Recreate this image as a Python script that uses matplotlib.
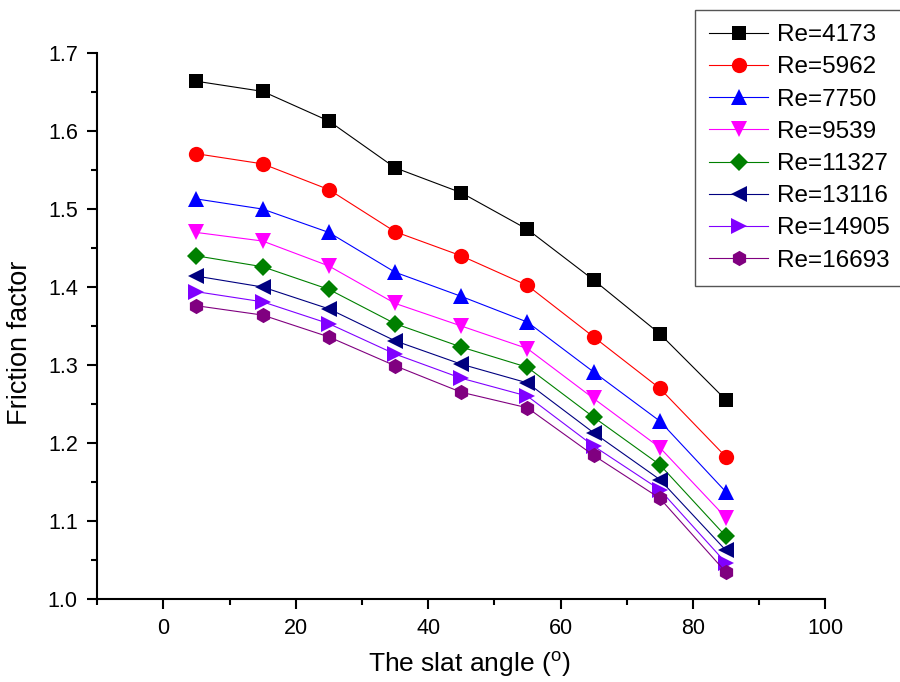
import matplotlib
matplotlib.use("Agg")
import matplotlib.pyplot as plt
from matplotlib.ticker import MultipleLocator

plt.rcParams['font.family'] = ['Liberation Sans', 'DejaVu Sans']
plt.rcParams['mathtext.fontset'] = 'custom'
plt.rcParams['mathtext.rm'] = 'Liberation Sans'

# slat angle (deg)
angle = [5, 15, 25, 35, 45, 55, 65, 75, 85]

re_labels = ['Re=4173', 'Re=5962', 'Re=7750', 'Re=9539',
             'Re=11327', 'Re=13116', 'Re=14905', 'Re=16693']

f_4173 = [1.664, 1.651, 1.613, 1.553, 1.521, 1.474, 1.409, 1.340, 1.255]
f_5962 = [1.571, 1.558, 1.525, 1.471, 1.440, 1.402, 1.336, 1.270, 1.182]
f_7750 = [1.513, 1.500, 1.470, 1.419, 1.388, 1.355, 1.291, 1.228, 1.137]
f_9539 = [1.470, 1.459, 1.427, 1.379, 1.350, 1.321, 1.257, 1.194, 1.104]
f_11327 = [1.440, 1.426, 1.397, 1.353, 1.323, 1.297, 1.233, 1.172, 1.080]
f_13116 = [1.414, 1.400, 1.372, 1.331, 1.301, 1.277, 1.213, 1.153, 1.062]
f_14905 = [1.394, 1.381, 1.353, 1.314, 1.283, 1.260, 1.196, 1.140, 1.046]
f_16693 = [1.376, 1.364, 1.336, 1.299, 1.265, 1.245, 1.184, 1.129, 1.034]

series = [f_4173, f_5962, f_7750, f_9539, f_11327, f_13116, f_14905, f_16693]
colors = ['#000000', '#ff0000', '#0000ff', '#ff00ff',
          '#008000', '#000080', '#8000ff', '#800080']
markers = ['s', 'o', '^', 'v', 'D', '<', '>', 'h']
msizes = [10, 11, 11, 11, 9.5, 11, 11, 11]

fig = plt.figure(figsize=(9, 6.82), dpi=100)
ax = fig.add_axes([0.108, 0.122, 0.809, 0.800])

for ys, c, m, ms, lab in zip(series, colors, markers, msizes, re_labels):
    ax.plot(angle, ys, color=c, marker=m, markersize=ms, linewidth=0.8,
            markeredgewidth=0, label=lab)

ax.set_xlim(-10, 100)
ax.set_ylim(1.0, 1.7)
ax.xaxis.set_major_locator(MultipleLocator(20))
ax.xaxis.set_minor_locator(MultipleLocator(10))
ax.yaxis.set_major_locator(MultipleLocator(0.1))
ax.yaxis.set_minor_locator(MultipleLocator(0.05))
ax.set_yticks([1.0, 1.1, 1.2, 1.3, 1.4, 1.5, 1.6, 1.7])
ax.set_xticks([0, 20, 40, 60, 80, 100])

for s in ['top', 'right']:
    ax.spines[s].set_visible(False)
for s in ['left', 'bottom']:
    ax.spines[s].set_linewidth(1.5)
ax.tick_params(which='major', direction='out', length=7, width=1.5,
               labelsize=15.5, pad=7)
ax.tick_params(which='minor', direction='out', length=4, width=1.5)

ax.set_xlabel('The slat angle ($^{\\mathrm{o}}$)', fontsize=19)
ax.set_ylabel('Friction factor', fontsize=19.5)
ax.xaxis.set_label_coords(0.511, -0.093)
ax.yaxis.set_label_coords(-0.088, 0.469)

leg = fig.legend(loc='upper left', bbox_to_anchor=(0.772, 0.986),
                 borderaxespad=0, fontsize=17.5, handlelength=2.4,
                 handletextpad=0.37, labelspacing=0.42, borderpad=0.6,
                 fancybox=False, framealpha=1)
leg.get_frame().set_edgecolor('#555555')
leg.get_frame().set_linewidth(1.0)

fig.savefig('out.png', dpi=100)
